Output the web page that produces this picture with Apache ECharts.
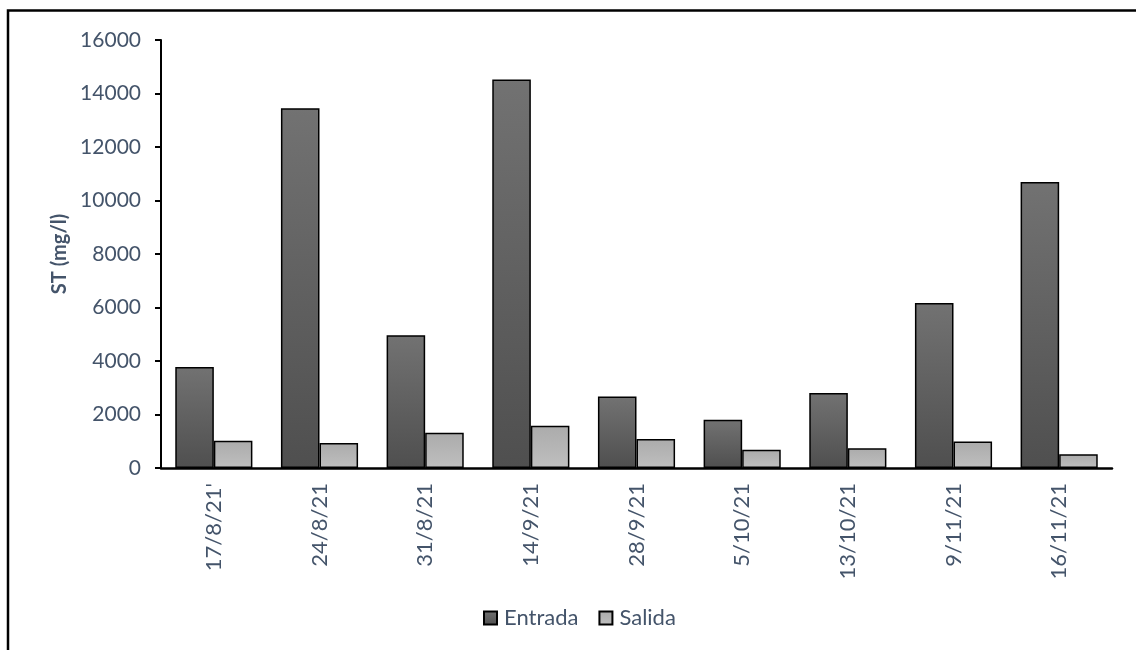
<!DOCTYPE html>
<html>
<head>
<meta charset="utf-8">
<script src="https://cdn.jsdelivr.net/npm/echarts@6/dist/echarts.min.js"></script>
<style>
  html, body { margin: 0; padding: 0; background: #ffffff; }
  #chart { width: 1136px; height: 650px; }
</style>
</head>
<body>
<div id="chart"></div>
<script>
// Sampling dates
const categories = ["17/8/21'", '24/8/21', '31/8/21', '14/9/21', '28/9/21', '5/10/21', '13/10/21', '9/11/21', '16/11/21'];
// Total solids (mg/l) at inlet and outlet
const entrada = [3780, 13450, 4960, 14520, 2670, 1800, 2800, 6170, 10690];
const salida = [1020, 930, 1320, 1580, 1080, 680, 740, 990, 510];
const yTicks = { min: 0, max: 16000, interval: 2000 };

const textColor = '#44546a';
const fontFamily = 'Lato, "Noto Sans", sans-serif';

const chart = echarts.init(document.getElementById('chart'), null, { renderer: 'canvas' });

const grad = (top, bottom) => new echarts.graphic.LinearGradient(0, 0, 0, 1, [
  { offset: 0, color: top },
  { offset: 1, color: bottom }
]);

chart.setOption({
  backgroundColor: '#ffffff',
  animation: false,
  textStyle: { fontFamily: fontFamily },
  graphic: [{
    type: 'rect',
    shape: { x: 8, y: 10.5, width: 1300, height: 800 },
    style: { fill: 'none', stroke: '#000000', lineWidth: 2.5 },
    silent: true
  }],
  grid: { left: 161, right: 24, top: 40, bottom: 182 },
  legend: {
    left: 478,
    top: 602,
    itemWidth: 13,
    itemHeight: 13,
    itemGap: 20,
    icon: 'rect',
    textStyle: { color: textColor, fontSize: 22, fontFamily: fontFamily, padding: [0, 0, 0, 2] },
    data: ['Entrada', 'Salida']
  },
  xAxis: {
    type: 'category',
    data: categories,
    axisLine: { lineStyle: { color: '#000000', width: 2.5 } },
    axisTick: { show: false },
    axisLabel: {
      rotate: 90,
      color: textColor,
      fontSize: 22,
      margin: 15,
      fontFamily: fontFamily
    }
  },
  yAxis: {
    type: 'value',
    min: yTicks.min,
    max: yTicks.max,
    interval: yTicks.interval,
    name: 'ST (mg/l)',
    nameLocation: 'middle',
    nameRotate: 90,
    nameGap: 88,
    nameTextStyle: { color: textColor, fontSize: 20, fontWeight: 'bold', fontFamily: fontFamily },
    axisLine: { show: true, lineStyle: { color: '#000000', width: 2 } },
    axisTick: { show: true, inside: false, length: 6, lineStyle: { color: '#000000', width: 2 } },
    splitLine: { show: false },
    axisLabel: {
      color: textColor,
      fontSize: 21,
      margin: 20,
      fontFamily: fontFamily,
      formatter: (v) => String(v)
    }
  },
  series: [
    {
      name: 'Entrada',
      type: 'bar',
      data: entrada,
      barGap: '0%',
      barCategoryGap: '27%',
      itemStyle: {
        color: grad('#727272', '#4f4f4f'),
        borderColor: '#000000',
        borderWidth: 1.5
      }
    },
    {
      name: 'Salida',
      type: 'bar',
      data: salida,
      barGap: '0%',
      barCategoryGap: '27%',
      itemStyle: {
        color: grad('#ababab', '#bfbfbf'),
        borderColor: '#000000',
        borderWidth: 1.5
      }
    }
  ]
});
</script>
</body>
</html>
